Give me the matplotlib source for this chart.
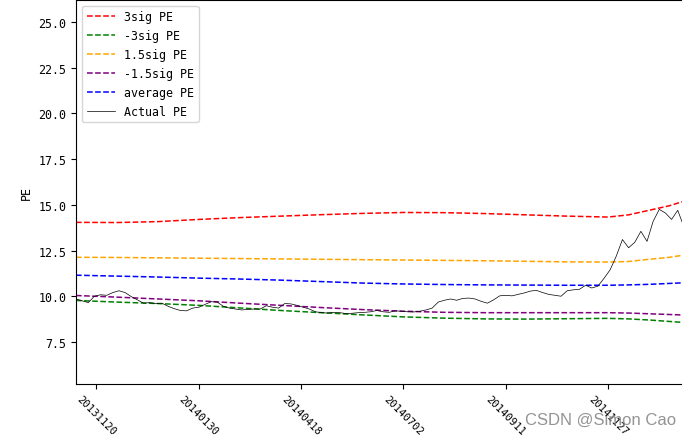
import numpy as np
import matplotlib.pyplot as plt

plt.rcParams['font.family'] = ['DejaVu Sans Mono']
plt.rcParams['font.size'] = 8.4

# trading-day index of the fitted band samples
fit_idx = [0, 20, 40, 60, 80, 100, 120, 140, 160, 180, 200, 220, 240, 260, 270, 280, 290, 300]
pe_3sig = [14.04, 14.03, 14.08, 14.2, 14.3, 14.38, 14.46, 14.53, 14.58, 14.57, 14.52, 14.45, 14.38, 14.33, 14.45, 14.7, 14.95, 15.3]
pe_m3sig = [9.77, 9.68, 9.6, 9.5, 9.36, 9.22, 9.1, 8.98, 8.87, 8.8, 8.76, 8.75, 8.77, 8.79, 8.76, 8.7, 8.62, 8.54]
pe_15sig = [12.13, 12.12, 12.1, 12.08, 12.06, 12.04, 12.02, 12.0, 11.98, 11.96, 11.94, 11.91, 11.88, 11.87, 11.9, 12.02, 12.13, 12.3]
pe_m15sig = [10.04, 9.95, 9.85, 9.75, 9.62, 9.5, 9.38, 9.27, 9.18, 9.12, 9.1, 9.1, 9.1, 9.1, 9.08, 9.04, 9.0, 8.96]
pe_avg = [11.15, 11.1, 11.05, 10.99, 10.94, 10.88, 10.8, 10.72, 10.67, 10.64, 10.62, 10.61, 10.6, 10.6, 10.62, 10.65, 10.7, 10.75]

# actual PE, one value every 3 trading days
actual_pe = [9.85, 9.75, 9.65, 10.0, 10.08, 10.05, 10.2, 10.3, 10.2, 9.98,
             9.8, 9.62, 9.65, 9.6, 9.62, 9.45, 9.32, 9.22, 9.2, 9.35,
             9.4, 9.55, 9.7, 9.68, 9.45, 9.35, 9.3, 9.25, 9.28, 9.3,
             9.3, 9.48, 9.4, 9.35, 9.6, 9.58, 9.5, 9.4, 9.3, 9.15,
             9.1, 9.08, 9.12, 9.1, 9.05, 9.07, 9.1, 9.12, 9.15, 9.22,
             9.15, 9.12, 9.2, 9.18, 9.15, 9.14, 9.18, 9.25, 9.35, 9.68,
             9.78, 9.85, 9.78, 9.88, 9.9, 9.85, 9.72, 9.62, 9.8, 10.02,
             10.05, 10.02, 10.1, 10.18, 10.28, 10.32, 10.2, 10.1, 10.05, 10.0,
             10.3, 10.35, 10.38, 10.6, 10.45, 10.55, 10.98, 11.45, 12.2, 13.1,
             12.65, 12.95, 13.55, 13.0, 14.1, 14.75, 14.55, 14.2, 14.7, 13.8]
actual_idx = np.arange(len(actual_pe)) * 3

tick_pos = [10, 60, 110, 160, 210, 260]
tick_labels = ['20131120', '20140130', '20140418', '20140702', '20140911', '20141127']

fig = plt.figure(figsize=(6.82, 4.39), dpi=100)
ax = fig.add_axes([76 / 682, 54 / 439, 614 / 682, 384 / 439])

ax.plot(fit_idx, pe_3sig, '--', color='red', lw=1.1, label='3sig PE')
ax.plot(fit_idx, pe_m3sig, '--', color='green', lw=1.1, label='-3sig PE')
ax.plot(fit_idx, pe_15sig, '--', color='orange', lw=1.1, label='1.5sig PE')
ax.plot(fit_idx, pe_m15sig, '--', color='purple', lw=1.1, label='-1.5sig PE')
ax.plot(fit_idx, pe_avg, '--', color='blue', lw=1.1, label='average PE')
ax.plot(actual_idx, actual_pe, color='black', lw=0.5, label='Actual PE')

ax.set_xlim(0, 300)
ax.set_ylim(5.2, 26.2)
ax.set_yticks([7.5, 10.0, 12.5, 15.0, 17.5, 20.0, 22.5, 25.0])
ax.set_xticks(tick_pos)
ax.set_xticklabels(tick_labels, rotation=-45, fontsize=7.6)
ax.set_ylabel('PE')
ax.legend(loc='upper left', handlelength=2.4)

fig.text(0.992, 0.025, 'CSDN @Simon Cao', family='Liberation Sans', fontsize=12,
         color='#888888', alpha=0.9, ha='right', va='bottom')

fig.savefig('out.png', dpi=100)
